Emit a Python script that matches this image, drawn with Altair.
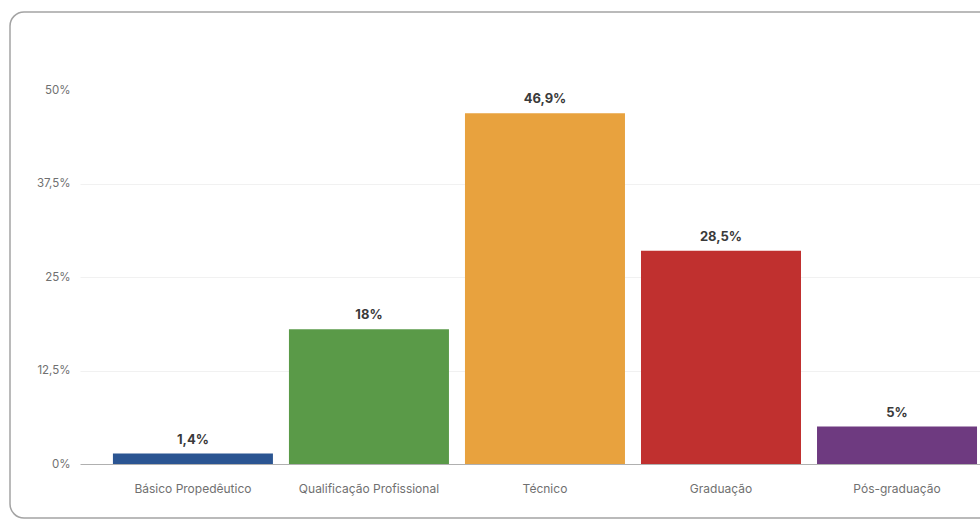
import altair as alt
import pandas as pd

categorias = ["Básico Propedêutico", "Qualificação Profissional", "Técnico", "Graduação", "Pós-graduação"]
valores = [1.4, 18.0, 46.9, 28.5, 5.0]
cores = ["#2b5592", "#5a9a48", "#e8a23e", "#c0302f", "#6e3a80"]
y_ticks = [0, 12.5, 25, 37.5, 50]

df = pd.DataFrame({"cat": categorias, "val": valores})
FONT = "Inter"
FRAME = "#a3a3a3"

x_enc = alt.X(
    "cat:N",
    sort=categorias,
    scale=alt.Scale(paddingInner=0.091, paddingOuter=0.102, align=0.917),
    axis=alt.Axis(
        title=None, labelAngle=0, labelFont=FONT, labelFontSize=12, labelColor="#707070",
        labelPadding=19, ticks=False, domainColor="#b0b0b0", domainWidth=1, grid=False,
    ),
)
y_enc = alt.Y(
    "val:Q",
    scale=alt.Scale(domain=[0, 50], nice=False),
    axis=alt.Axis(
        title=None, values=y_ticks, labelFont=FONT, labelFontSize=11.5, labelColor="#707070",
        labelPadding=10, ticks=False, domain=False,
        gridColor="#f1f1f1",
        gridOpacity={"condition": {"test": "datum.value == 50 || datum.value == 0", "value": 0}, "value": 1},
        labelExpr="replace(toString(datum.value), '.', ',') + '%'",
    ),
)

bars = alt.Chart(df).mark_bar().encode(
    x=x_enc,
    y=y_enc,
    color=alt.Color("cat:N", scale=alt.Scale(domain=categorias, range=cores), legend=None),
)

labels = alt.Chart(df).transform_calculate(
    txt="replace(toString(datum.val), '.', ',') + '%'"
).mark_text(
    dy=-7, baseline="bottom", font=FONT, fontSize=13, fontWeight="bold", color="#3a3a3a"
).encode(
    x=alt.X("cat:N", sort=categorias),
    y="val:Q",
    text="txt:N",
)

# card frame: left, top and bottom edges with rounded left corners (right edge lies outside the window)
frame_base = alt.Chart(pd.DataFrame({"a": [0]}))
frame_left = frame_base.mark_rule(stroke=FRAME, strokeWidth=1.5).encode(
    x=alt.value(-70), y=alt.value(-64), y2=alt.value(414)
)
frame_top = frame_base.mark_rule(stroke=FRAME, strokeWidth=1.5).encode(
    x=alt.value(-56), x2=alt.value(900), y=alt.value(-78)
)
frame_bottom = frame_base.mark_rule(stroke=FRAME, strokeWidth=1.5).encode(
    x=alt.value(-56), x2=alt.value(900), y=alt.value(428)
)
corner_tl = frame_base.mark_arc(fill=FRAME).encode(
    x=alt.value(-56), y=alt.value(-64),
    radius=alt.value(14.75), radius2=alt.value(13.25),
    theta=alt.value(4.7124), theta2=alt.value(6.2832),
)
corner_bl = frame_base.mark_arc(fill=FRAME).encode(
    x=alt.value(-56), y=alt.value(414),
    radius=alt.value(14.75), radius2=alt.value(13.25),
    theta=alt.value(3.1416), theta2=alt.value(4.7124),
)

chart = alt.layer(frame_left, frame_top, frame_bottom, corner_tl, corner_bl, bars, labels).properties(
    width=900, height=374,
    padding={"left": 80, "top": 90, "right": 0, "bottom": 57},
    autosize=alt.AutoSizeParams(type="none"),
    background="white",
).configure_view(stroke=None)

chart.save("out.html", embed_options={"renderer": "svg", "actions": False})
